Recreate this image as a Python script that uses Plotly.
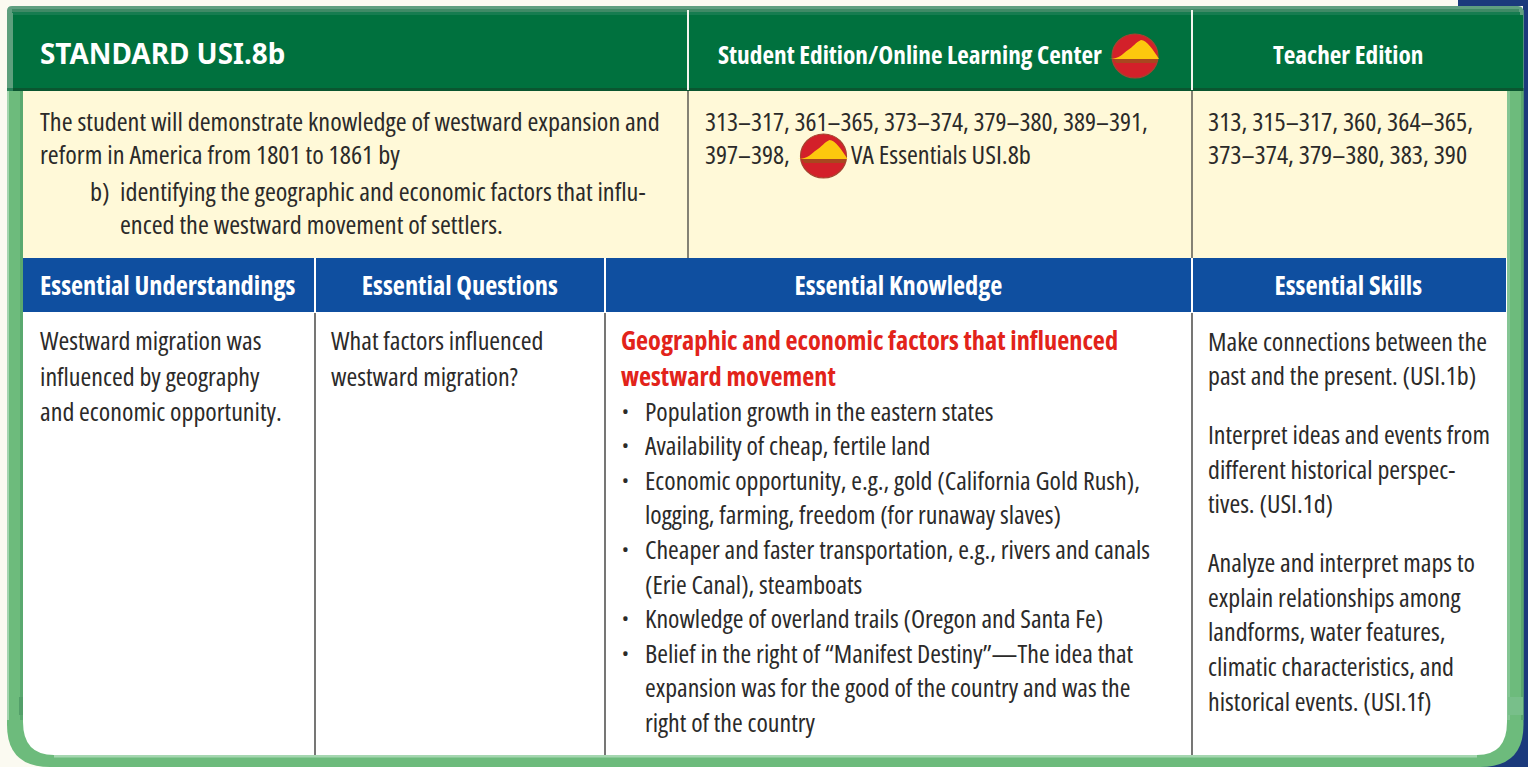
import plotly.graph_objects as go

W, H = 1528, 767
BODY_FONT = "Open Sans"
TITLE_FONT = "Noto Sans"

header_title = "STANDARD USI.8b"
header_online = "Student Edition/Online Learning Center"
header_teacher = "Teacher Edition"
standard_lines = ["The student will demonstrate knowledge of westward expansion and",
                  "reform in America from 1801 to 1861 by"]
standard_b_mark = "b)"
standard_b = "identifying the geographic and economic factors that influ-"
standard_b2 = "enced the westward movement of settlers."
student_pages = ["313–317, 361–365, 373–374, 379–380, 389–391,", "397–398,"]
student_va = "VA Essentials USI.8b"
teacher_pages = ["313, 315–317, 360, 364–365,", "373–374, 379–380, 383, 390"]
blue_heads = ["Essential Understandings", "Essential Questions", "Essential Knowledge", "Essential Skills"]
understandings = ["Westward migration was", "influenced by geography", "and economic opportunity."]
questions = ["What factors influenced", "westward migration?"]
knowledge_head = ["Geographic and economic factors that influenced", "westward movement"]
knowledge_items = [
    ("Population growth in the eastern states",),
    ("Availability of cheap, fertile land",),
    ("Economic opportunity, e.g., gold (California Gold Rush),", "logging, farming, freedom (for runaway slaves)"),
    ("Cheaper and faster transportation, e.g., rivers and canals", "(Erie Canal), steamboats"),
    ("Knowledge of overland trails (Oregon and Santa Fe)",),
    ("Belief in the right of “Manifest Destiny”—The idea that", "expansion was for the good of the country and was the", "right of the country"),
]
skills = [
    ("Make connections between the", "past and the present. (USI.1b)"),
    ("Interpret ideas and events from", "different historical perspec-", "tives. (USI.1d)"),
    ("Analyze and interpret maps to", "explain relationships among", "landforms, water features,", "climatic characteristics, and", "historical events. (USI.1f)"),
]

INK = "#2b2a29"
GREEN = "#00713e"
FRAME = "#6dbb7c"
BLUE = "#0f4fa0"
CREAM = "#fff9d8"
NAVY = "#1b3a7c"
PAPER = "#fbfaf1"
BODY = 26.25

shapes, ann = [], []

def rect(x0, y0, x1, y1, c):
    shapes.append(dict(type="rect", x0=x0, y0=y0, x1=x1, y1=y1, fillcolor=c, line_width=0, layer="below"))

def vline(x, y0, y1, c, w=1.6):
    shapes.append(dict(type="line", x0=x, x1=x, y0=y0, y1=y1, line=dict(color=c, width=w), layer="below"))

def path(d, c):
    shapes.append(dict(type="path", path=d, fillcolor=c, line_width=0, layer="below"))

def text(x, y, s, size=BODY, color=INK, bold=False, anchor="left", family=BODY_FONT):
    ann.append(dict(x=x, y=y, text=f"<b>{s}</b>" if bold else s, showarrow=False, xanchor=anchor, yanchor="middle",
                    font=dict(family=family, size=size, color=color), align=anchor, xref="x", yref="y", borderpad=0))

def icon(cx, cy):
    shapes.append(dict(type="circle", x0=cx-23, x1=cx+23, y0=cy-22, y1=cy+22, fillcolor="#d3202a",
                       line=dict(color="#a5452f", width=1.2), layer="below"))
    path(f"M{cx-26},{cy+3} C{cx-15},{cy+3} {cx-12},{cy-3} {cx-7},{cy-6} C{cx-2},{cy-9} {cx+1},{cy-14} {cx+6},{cy-16}"
         f" C{cx+12},{cy-16} {cx+18},{cy-6} {cx+24},{cy+3} Z", "#fdc80e")
    path(f"M{cx-22},{cy+3} L{cx+23},{cy+3} L{cx+21},{cy+7} L{cx-19},{cy+7} Z", "#a8471f")

# backdrop
rect(0, 0, W, H, PAPER)
rect(1458, 0, W, 6, NAVY)
rect(1523, 6, W, H, NAVY)
rect(1440, 730, W, H, NAVY)

# rounded frame
path("M7,10 L1523.5,10 L1523.5,725 Q1523.5,767 1480,767 L50,767 Q7,767 7,725 Z", FRAME)
path("M23,85 L1507,85 L1507,722 Q1507,755 1477,755 L54,755 Q23,755 23,722 Z", "#ffffff")
rect(7, 91, 9, 720, "#a4d5af")
rect(20, 91, 23, 720, "#5aa96f")
rect(1507, 91, 1510, 720, "#84c594")
rect(1521, 91, 1523.5, 720, "#58a66d")
rect(54, 755, 1477, 757.5, "#a6d7b1")
rect(19, 697, 23, 715, "#539f69")
rect(1508, 697, 1523, 715, "#78bf8a")

# green header with soft top edge and dark bottom edge
path("M7,11 Q7,6 12,6 L1518,6 Q1523.5,6 1523.5,12 L1523.5,91 L7,91 Z", "#5f9f80")
rect(12, 9, 1519, 12, "#3f8a66")
rect(12, 12, 1520, 15, "#167c50")
path("M13,15 L1523,15 L1523,88 L13,88 Z", GREEN)
rect(7, 13, 13, 88, "#5d9f7d")
rect(13, 88, 1523.5, 91, "#0a5630")
rect(7, 88, 13, 91, "#2a8058")
rect(23, 91, 1507, 258, CREAM)
rect(23, 258, 1506, 312, BLUE)

# rules
for x in (688, 1192):
    vline(x, 10, 90, "#f4f4ee", 2)
    vline(x, 91, 258, "#66645c", 1.6)
for x in (315, 605, 1192):
    vline(x, 258, 312, "#ffffff", 2)
    vline(x, 313, 755, "#3d3d3b", 1.4)

# top row
text(39, 52.5, header_title, size=27.9, color="#ffffff", bold=True, family=TITLE_FONT)
text(717, 54, header_online, size=25.3, color="#ffffff", bold=True)
text(1348, 54, header_teacher, size=25.3, color="#ffffff", bold=True, anchor="center")
icon(1135, 56)

y_std = [121, 154]
for y, s in zip(y_std, standard_lines):
    text(39, y, s)
text(89, 191, standard_b_mark)
text(119, 191, standard_b)
text(119, 224, standard_b2)
for y, s in zip(y_std, student_pages):
    text(704, y, s, size=25.9)
icon(823.5, 156)
text(850, 154, student_va)
for y, s in zip(y_std, teacher_pages):
    text(1207, y, s)

# blue header
for x, s, a in zip((39, 460, 898, 1348), blue_heads, ("left", "center", "center", "center")):
    text(x, 285, s, size=26.4, color="#ffffff", bold=True, anchor=a)

# body
for i, s in enumerate(understandings):
    text(39, 340 + i * 35.5, s, size=26)
for i, s in enumerate(questions):
    text(330, 340 + i * 35.5, s, size=26)
for i, s in enumerate(knowledge_head):
    text(620, 340 + i * 36, s, size=26.3, color="#e2231a", bold=True)
y = 410.5
for item in knowledge_items:
    text(621, y, "•", size=18)
    for s in item:
        text(644, y, s, size=25.9)
        y += 34.6
y = 340.5
for para in skills:
    for s in para:
        text(1207, y, s, size=26)
        y += 34.7
    y += 24

fig = go.Figure()
fig.update_layout(width=W, height=H, margin=dict(l=0, r=0, t=0, b=0), paper_bgcolor=PAPER, plot_bgcolor=PAPER,
                  xaxis=dict(range=[0, W], visible=False, fixedrange=True),
                  yaxis=dict(range=[H, 0], visible=False, fixedrange=True),
                  shapes=shapes, annotations=ann, showlegend=False)
ps = """
document.documentElement.style.overflow='hidden';
document.body.style.margin='0';
var st=document.createElement('style');
st.textContent=".annotation-text{font-stretch:75%;}";
document.head.appendChild(st);
var gd=document.querySelector('.plotly-graph-div');
Plotly.relayout(gd,{'annotations[0].x':gd.layout.annotations[0].x});
Plotly.redraw(gd);
"""
fig.write_html("out.html", config=dict(displayModeBar=False), post_script=ps)
